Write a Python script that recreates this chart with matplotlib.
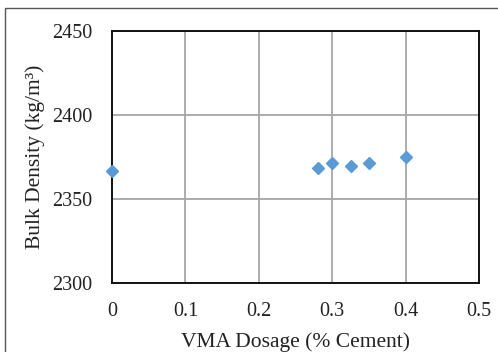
import matplotlib

matplotlib.use("Agg")
import matplotlib.pyplot as plt
from matplotlib.patches import Rectangle

# VMA dosage (% cement) vs bulk density (kg/m3)
vma_dosage = [0.0, 0.28, 0.30, 0.325, 0.35, 0.40]
bulk_density = [2366.7, 2368.5, 2371.6, 2369.6, 2371.2, 2374.8]

x_ticks = [0, 0.1, 0.2, 0.3, 0.4, 0.5]
x_labels = ["0", "0.1", "0.2", "0.3", "0.4", "0.5"]
y_ticks = [2300, 2350, 2400, 2450]

plt.rcParams["font.family"] = ["Liberation Serif", "DejaVu Serif"]

W, H = 498, 352
fig = plt.figure(figsize=(W / 100, H / 100), dpi=100)
ax = fig.add_axes([112 / W, 1 - 283 / H, (479 - 112) / W, (283 - 31) / H])

ax.plot(vma_dosage, bulk_density, linestyle="none", marker="D",
        markersize=6.5, color="#5B9BD5", clip_on=False, zorder=5)

ax.set_xlim(0, 0.5)
ax.set_ylim(2300, 2450)
ax.set_xticks(x_ticks)
ax.set_xticklabels(x_labels)
ax.set_yticks(y_ticks)
ax.tick_params(length=0, labelsize=14.5, colors="#222222")
ax.tick_params(axis="x", pad=14)
ax.tick_params(axis="y", pad=14)
ax.grid(True, color="#A6A6A6", linewidth=1.3)
ax.set_axisbelow(True)
for s in ax.spines.values():
    s.set_linewidth(1.4)
    s.set_color("#111111")

ax.set_xlabel("VMA Dosage (% Cement)", fontsize=15.5, color="#222222", labelpad=8)
ax.set_ylabel("Bulk Density (kg/m³)", fontsize=15.5, color="#222222", labelpad=5)

# outer chart border (cut off at right/bottom like the reference)
fig.patches.append(Rectangle((5 / W, -0.05), 1.1, 1 - 8 / H + 0.05,
                             transform=fig.transFigure, fill=False,
                             edgecolor="#555555", linewidth=1.0))

fig.savefig("out.png", dpi=100)
